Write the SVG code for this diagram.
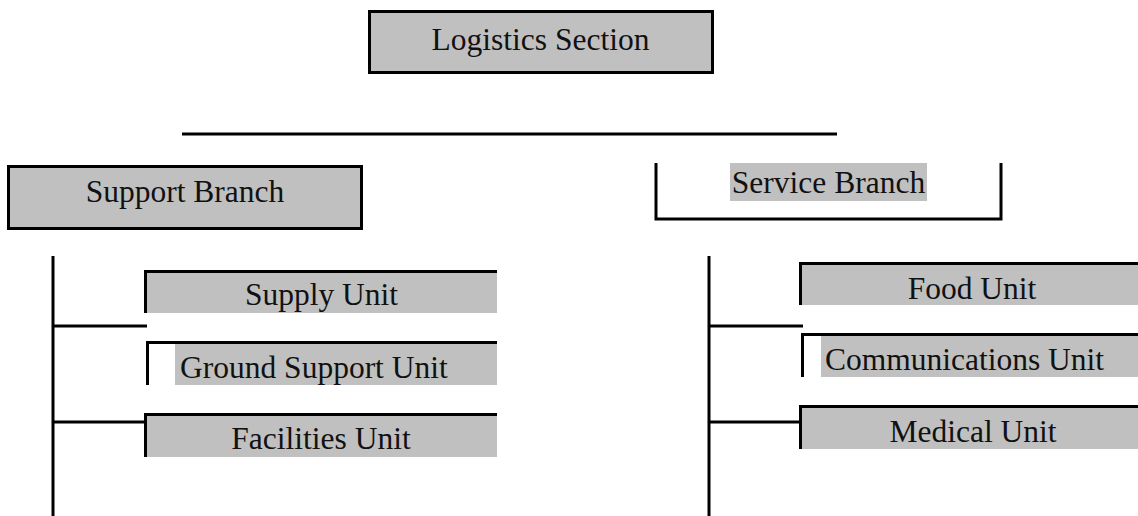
<svg xmlns="http://www.w3.org/2000/svg" width="1138" height="516" viewBox="0 0 1138 516">
<style>
text{font-family:"Liberation Serif","Times New Roman",serif;font-size:31.5px;fill:#111}
.g{fill:#c0c0c0}
.ln{stroke:#000;stroke-width:3;fill:none}
.bx{fill:#c0c0c0;stroke:#000;stroke-width:3}
.c{text-anchor:middle}
</style>
<rect width="1138" height="516" fill="#fff"/>
<g id="connectors">
<line class="ln" x1="182" y1="134" x2="837" y2="134"/>
<line class="ln" x1="53" y1="256" x2="53" y2="516"/>
<line class="ln" x1="53" y1="326" x2="147" y2="326"/>
<line class="ln" x1="53" y1="422" x2="147" y2="422"/>
<line class="ln" x1="709" y1="256" x2="709" y2="516"/>
<line class="ln" x1="709" y1="326" x2="803" y2="326"/>
<line class="ln" x1="709" y1="422" x2="803" y2="422"/>
</g>
<g id="logistics">
<rect class="bx" x="369.5" y="11.5" width="343" height="61"/>
<text class="c" x="540.5" y="50">Logistics Section</text>
</g>
<g id="support-branch">
<rect class="bx" x="8.5" y="166.5" width="353" height="62"/>
<text class="c" x="185" y="202">Support Branch</text>
</g>
<g id="service-branch">
<rect class="g" x="730" y="163" width="197" height="38"/>
<polyline class="ln" points="656,163 656,219 1001,219 1001,163"/>
<text class="c" x="828.5" y="193">Service Branch</text>
</g>
<g id="supply-unit">
<rect class="g" x="146" y="272" width="351" height="41"/>
<polyline class="ln" points="145.5,313 145.5,271.5 497,271.5"/>
<text class="c" x="321.5" y="305">Supply Unit</text>
</g>
<g id="ground-support-unit">
<rect class="g" x="175" y="343" width="322" height="42"/>
<polyline class="ln" points="147.5,385 147.5,342.5 497,342.5"/>
<text x="180" y="378">Ground Support Unit</text>
</g>
<g id="facilities-unit">
<rect class="g" x="146" y="415" width="351" height="42"/>
<polyline class="ln" points="145.5,457 145.5,414.5 497,414.5"/>
<text class="c" x="321" y="449">Facilities Unit</text>
</g>
<g id="food-unit">
<rect class="g" x="801" y="264" width="337" height="41"/>
<polyline class="ln" points="800.5,305 800.5,263.5 1138,263.5"/>
<text class="c" x="972" y="299">Food Unit</text>
</g>
<g id="communications-unit">
<rect class="g" x="821" y="335" width="317" height="42"/>
<polyline class="ln" points="802.5,377 802.5,334.5 1138,334.5"/>
<text x="825" y="370">Communications Unit</text>
</g>
<g id="medical-unit">
<rect class="g" x="801" y="407" width="337" height="42"/>
<polyline class="ln" points="800.5,449 800.5,406.5 1138,406.5"/>
<text class="c" x="973" y="442">Medical Unit</text>
</g>
</svg>
